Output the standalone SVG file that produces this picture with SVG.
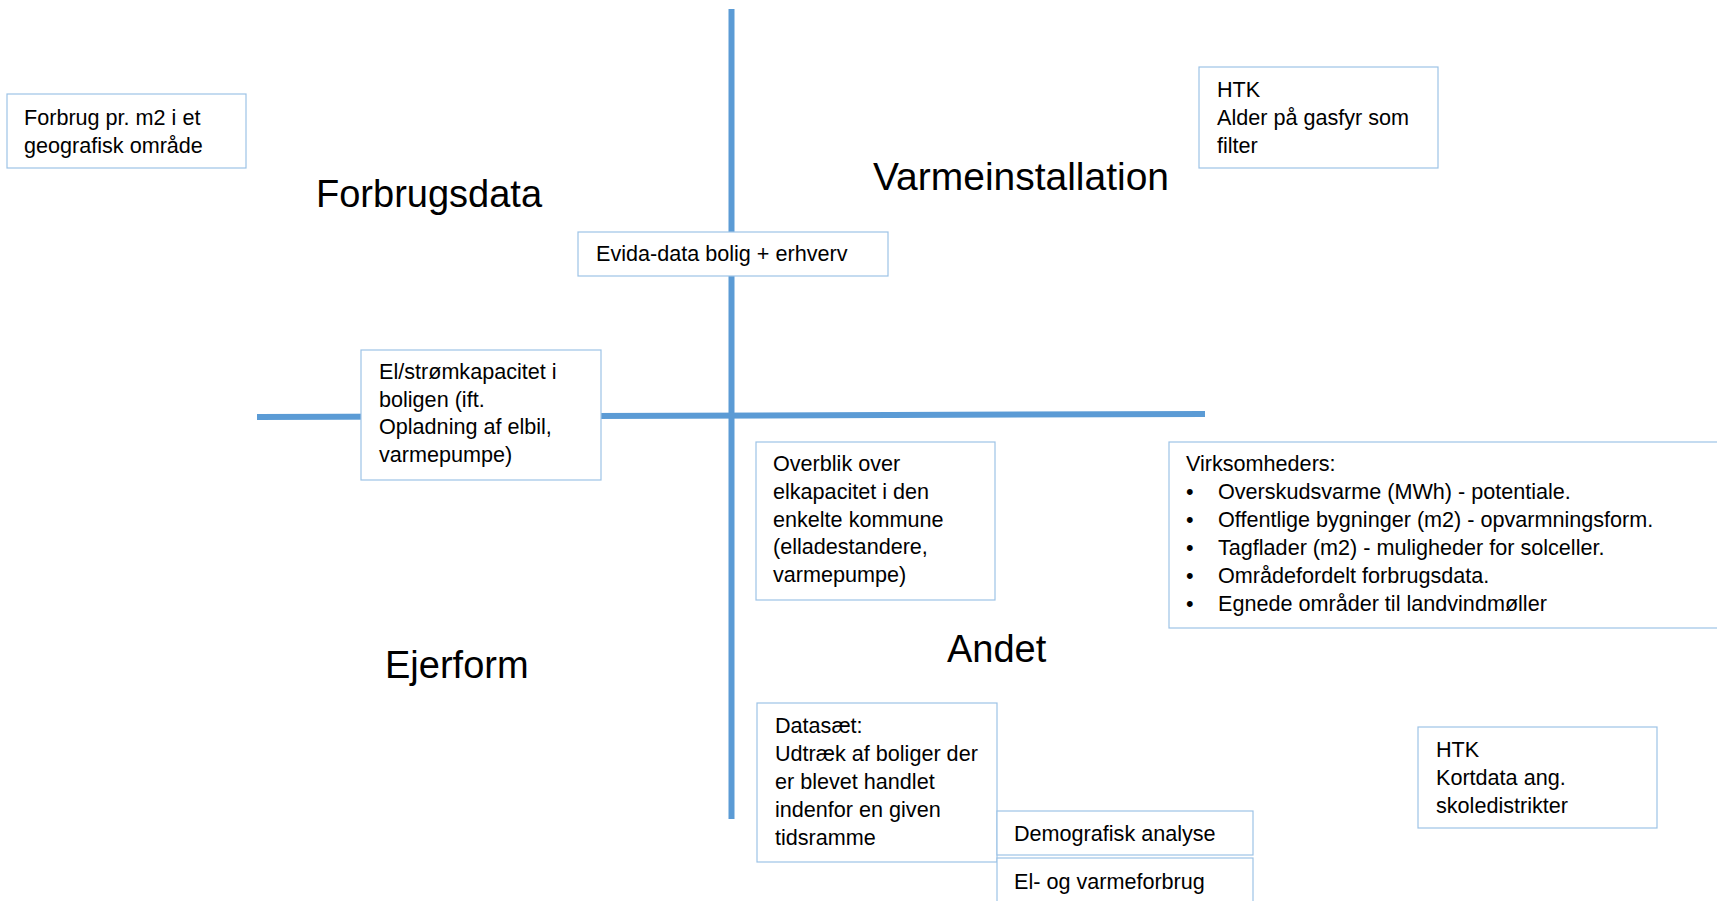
<svg xmlns="http://www.w3.org/2000/svg" width="1717" height="901" viewBox="0 0 1717 901">
  <style>
    .axis { stroke: #5B9BD5; stroke-width: 6; fill: none; }
    .box { fill: #FFFFFF; stroke: #9DC3E6; stroke-width: 1.2; }
    .txt { font-family: "Liberation Sans", Arial, sans-serif; font-size: 21.6px; fill: #000000; }
    .head { font-family: "Liberation Sans", Arial, sans-serif; font-size: 38px; fill: #000000; }
  </style>
  <rect x="0" y="0" width="1717" height="901" fill="#FFFFFF"/>

  <!-- quadrant axes -->
  <g id="connectors">
    <line class="axis" x1="731.5" y1="9" x2="731.5" y2="819"/>
    <line class="axis" x1="257" y1="417" x2="1205" y2="414"/>
  </g>

  <!-- quadrant headings -->
  <g id="heading-forbrugsdata"><text class="head" x="316" y="207">Forbrugsdata</text></g>
  <g id="heading-varmeinstallation"><text class="head" x="873" y="190" textLength="296" lengthAdjust="spacingAndGlyphs">Varmeinstallation</text></g>
  <g id="heading-ejerform"><text class="head" x="385" y="678">Ejerform</text></g>
  <g id="heading-andet"><text class="head" x="947" y="662">Andet</text></g>

  <g id="node-forbrug-m2">
    <rect class="box" x="7" y="94" width="239" height="74"/>
    <text class="txt" x="24" y="125">Forbrug pr. m2 i et</text>
    <text class="txt" x="24" y="153">geografisk område</text>
  </g>

  <g id="node-evida">
    <rect class="box" x="578" y="232" width="310" height="44"/>
    <text class="txt" x="596" y="261">Evida-data bolig + erhverv</text>
  </g>

  <g id="node-htk-gasfyr">
    <rect class="box" x="1199" y="67" width="239" height="101"/>
    <text class="txt" x="1217" y="97">HTK</text>
    <text class="txt" x="1217" y="125">Alder på gasfyr som</text>
    <text class="txt" x="1217" y="153">filter</text>
  </g>

  <g id="node-elkapacitet-bolig">
    <rect class="box" x="361" y="350" width="240" height="130"/>
    <text class="txt" x="379" y="379">El/strømkapacitet i</text>
    <text class="txt" x="379" y="407">boligen (ift.</text>
    <text class="txt" x="379" y="434">Opladning af elbil,</text>
    <text class="txt" x="379" y="462">varmepumpe)</text>
  </g>

  <g id="node-overblik">
    <rect class="box" x="756" y="442" width="239" height="158"/>
    <text class="txt" x="773" y="471">Overblik over</text>
    <text class="txt" x="773" y="499">elkapacitet i den</text>
    <text class="txt" x="773" y="527">enkelte kommune</text>
    <text class="txt" x="773" y="554">(elladestandere,</text>
    <text class="txt" x="773" y="582">varmepumpe)</text>
  </g>

  <g id="node-virksomheder">
    <rect class="box" x="1169" y="442" width="560" height="186"/>
    <text class="txt" x="1186" y="471">Virksomheders:</text>
    <text class="txt" x="1186" y="499">•</text>
    <text class="txt" x="1218" y="499">Overskudsvarme (MWh) - potentiale.</text>
    <text class="txt" x="1186" y="527">•</text>
    <text class="txt" x="1218" y="527">Offentlige bygninger (m2) - opvarmningsform.</text>
    <text class="txt" x="1186" y="555">•</text>
    <text class="txt" x="1218" y="555">Tagflader (m2) - muligheder for solceller.</text>
    <text class="txt" x="1186" y="583">•</text>
    <text class="txt" x="1218" y="583">Områdefordelt forbrugsdata.</text>
    <text class="txt" x="1186" y="611">•</text>
    <text class="txt" x="1218" y="611">Egnede områder til landvindmøller</text>
  </g>

  <g id="node-datasaet">
    <rect class="box" x="757" y="703" width="240" height="159"/>
    <text class="txt" x="775" y="733">Datasæt:</text>
    <text class="txt" x="775" y="761">Udtræk af boliger der</text>
    <text class="txt" x="775" y="789">er blevet handlet</text>
    <text class="txt" x="775" y="817">indenfor en given</text>
    <text class="txt" x="775" y="845">tidsramme</text>
  </g>

  <g id="node-demografisk">
    <rect class="box" x="997" y="811" width="256" height="44"/>
    <text class="txt" x="1014" y="841">Demografisk analyse</text>
  </g>

  <g id="node-el-varmeforbrug">
    <rect class="box" x="997" y="858" width="256" height="60"/>
    <text class="txt" x="1014" y="889">El- og varmeforbrug</text>
  </g>

  <g id="node-htk-skole">
    <rect class="box" x="1418" y="727" width="239" height="101"/>
    <text class="txt" x="1436" y="757">HTK</text>
    <text class="txt" x="1436" y="785">Kortdata ang.</text>
    <text class="txt" x="1436" y="813">skoledistrikter</text>
  </g>
</svg>
